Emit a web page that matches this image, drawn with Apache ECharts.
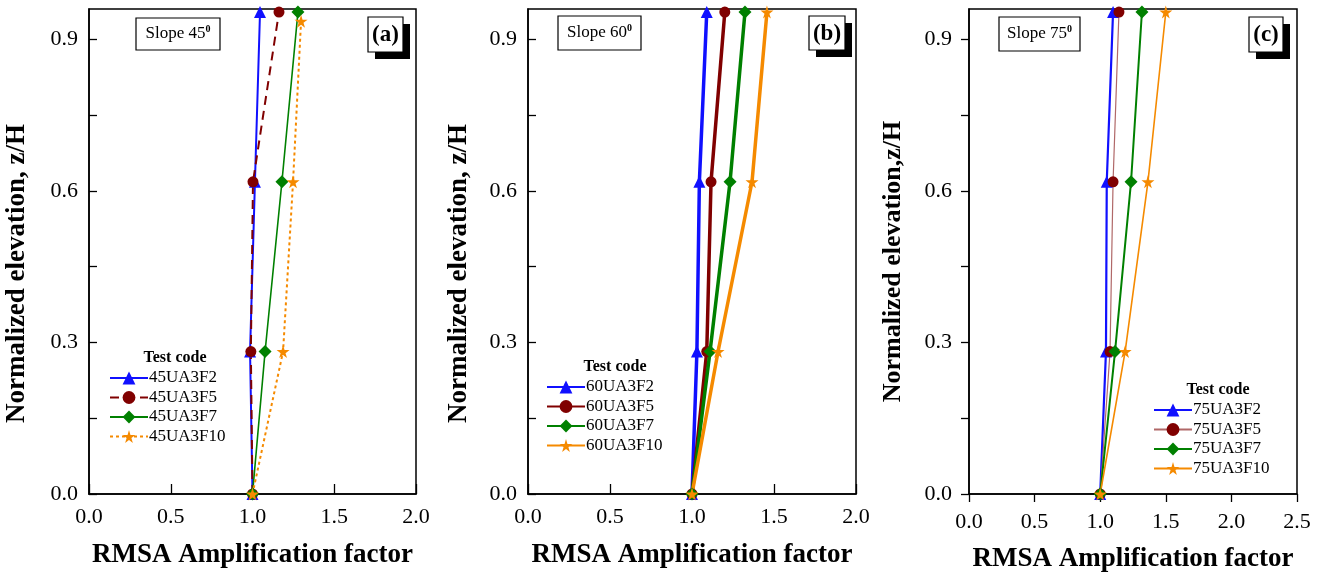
<!DOCTYPE html>
<html><head><meta charset="utf-8">
<script src="https://cdn.jsdelivr.net/npm/echarts@6/dist/echarts.min.js"></script>
<style>html,body{margin:0;padding:0;background:#fff}#c{width:1324px;height:573px}</style>
</head><body><div id="c"></div>
<script>
// ---- data ----
const elev = [0, 0.282, 0.618, 0.954];
const elevA10 = [0, 0.282, 0.618, 0.936];
const xTicksAB = [0, 2.0];
const xTicksC = [0, 2.5];
const namesA = ['45UA3F2', '45UA3F5', '45UA3F7', '45UA3F10'];
const namesB = ['60UA3F2', '60UA3F5', '60UA3F7', '60UA3F10'];
const namesC = ['75UA3F2', '75UA3F5', '75UA3F7', '75UA3F10'];
const a_F2  = [1.0, 0.985, 1.015, 1.046];
const a_F5  = [1.0, 0.99, 1.003, 1.162];
const a_F7  = [1.0, 1.077, 1.18, 1.278];
const a_F10 = [1.0, 1.187, 1.248, 1.297];
const b_F2  = [1.0, 1.03, 1.045, 1.09];
const b_F5  = [1.0, 1.09, 1.116, 1.20];
const b_F7  = [1.0, 1.11, 1.232, 1.323];
const b_F10 = [1.0, 1.159, 1.366, 1.457];
const c_F2  = [1.0, 1.044, 1.05, 1.098];
const c_F5  = [1.0, 1.075, 1.098, 1.143];
const c_F7  = [1.0, 1.113, 1.235, 1.318];
const c_F10 = [1.0, 1.19, 1.364, 1.50];

const FONT = 'Liberation Serif';
const BLUE = '#1010ff', RED = '#800000', GREEN = '#008000', ORANGE = '#f58a00';
const STAR = 'path://M50,0 L61,35 L98,35 L68,57 L79,91 L50,70 L21,91 L32,57 L2,35 L39,35 Z';

function pairs(xs, ys){ return xs.map((x,i)=>[x, ys[i]]); }

const grids = [
  {left: 89, top: 9, width: 327, height: 485},
  {left: 528, top: 9, width: 328, height: 485},
  {left: 969, top: 9, width: 328, height: 485}
];

function xAxis(idx, max, inside, margin, gap){
  return {
    type: 'value', gridIndex: idx, min: 0, max: max, interval: 0.5,
    name: 'RMSA Amplification factor', nameLocation: 'middle', nameGap: gap,
    nameTextStyle: {fontFamily: FONT, fontWeight: 'bold', fontSize: 27, color: '#000'},
    axisLine: {show: true, onZero: false, lineStyle: {color: '#000', width: 1.5}},
    axisTick: {show: true, inside: inside, length: inside ? 10 : 8, lineStyle: {color: '#000', width: 1.3}},
    axisLabel: {fontFamily: FONT, fontSize: 22, color: '#000', margin: margin,
      formatter: v => v.toFixed(1)},
    splitLine: {show: false}
  };
}
function yAxis(idx, name, inside, margin, gap, fs, shift){
  return {
    type: 'value', gridIndex: idx, min: 0, max: 0.96, interval: 0.15,
    name: name, nameLocation: 'middle', nameGap: gap, nameRotate: 90,
    nameTextStyle: {fontFamily: FONT, fontWeight: 'bold', fontSize: fs, color: '#000', padding: [0, shift, 0, 0]},
    axisLine: {show: true, onZero: false, lineStyle: {color: '#000', width: 1.5}},
    axisTick: {show: true, inside: inside, length: 8, lineStyle: {color: '#000', width: 1.3}},
    axisLabel: {fontFamily: FONT, fontSize: 22, color: '#000', margin: margin, showMaxLabel: false,
      formatter: v => { const k = v / 0.3; return Math.abs(k - Math.round(k)) < 1e-6 ? v.toFixed(1) : ''; }},
    splitLine: {show: false}
  };
}

function ser(name, idx, xs, ys, color, lineColor, width, type, symbol, size){
  return {
    name: name, type: 'line', xAxisIndex: idx, yAxisIndex: idx,
    data: pairs(xs, ys), symbol: symbol, symbolSize: size, showSymbol: true,
    lineStyle: {color: lineColor, width: width, type: type},
    itemStyle: {color: color},
    clip: false, animation: false, z: 3
  };
}

const series = [
  ser(namesA[0], 0, a_F2, elev, BLUE, BLUE, 2, 'solid', 'triangle', 12),
  ser(namesA[1], 0, a_F5, elev, RED, RED, 2, [9, 6], 'circle', 11),
  ser(namesA[2], 0, a_F7, elev, GREEN, GREEN, 1.6, 'solid', 'diamond', 13),
  ser(namesA[3], 0, a_F10, elevA10, ORANGE, ORANGE, 2, [3, 3], STAR, 13),
  ser(namesB[0], 1, b_F2, elev, BLUE, BLUE, 3.5, 'solid', 'triangle', 12),
  ser(namesB[1], 1, b_F5, elev, RED, RED, 3.5, 'solid', 'circle', 11),
  ser(namesB[2], 1, b_F7, elev, GREEN, GREEN, 3.5, 'solid', 'diamond', 13),
  ser(namesB[3], 1, b_F10, elev, ORANGE, ORANGE, 3.5, 'solid', STAR, 13),
  ser(namesC[0], 2, c_F2, elev, BLUE, BLUE, 2.2, 'solid', 'triangle', 12),
  ser(namesC[1], 2, c_F5, elev, RED, '#b06868', 1.2, 'solid', 'circle', 11),
  ser(namesC[2], 2, c_F7, elev, GREEN, GREEN, 2, 'solid', 'diamond', 13),
  ser(namesC[3], 2, c_F10, elev, ORANGE, ORANGE, 1.6, 'solid', STAR, 13)
];

function legend(names, left, top){
  return {
    data: names, orient: 'vertical', left: left, top: top,
    itemWidth: 38, itemHeight: 16, itemGap: 1.5, padding: 0,
    textStyle: {fontFamily: FONT, fontSize: 17, color: '#000', lineHeight: 18, padding: [0, 0, 0, -4]},
    selectedMode: false
  };
}

function slopeBox(x, y, w, h, deg){
  return [
    {type: 'rect', shape: {x: x, y: y, width: w, height: h}, style: {fill: '#fff', stroke: '#000', lineWidth: 1.2}, z: 10},
    {type: 'text', x: x + w / 2, y: y + h / 2, z: 11,
      style: {text: '{m|Slope ' + deg + '}{s|0}', align: 'center', verticalAlign: 'middle',
        rich: {m: {fontFamily: FONT, fontSize: 17, color: '#000', lineHeight: 20},
               s: {fontFamily: FONT, fontSize: 10, fontWeight: 'bold', color: '#000', verticalAlign: 'top', lineHeight: 10}}}}
  ];
}
function letterBox(x, y, w, h, txt){
  return [
    {type: 'rect', shape: {x: x + 7, y: y + 7, width: w, height: h}, style: {fill: '#000'}, z: 10},
    {type: 'rect', shape: {x: x, y: y, width: w, height: h}, style: {fill: '#fff', stroke: '#000', lineWidth: 1.2}, z: 11},
    {type: 'text', x: x + w / 2, y: y + h / 2 + 1, z: 12,
      style: {text: txt, align: 'center', verticalAlign: 'middle', fontFamily: FONT, fontWeight: 'bold', fontSize: 23, fill: '#000'}}
  ];
}
function legTitle(x, y){
  return {type: 'text', x: x, y: y, z: 11,
    style: {text: 'Test code', align: 'center', verticalAlign: 'middle', fontFamily: FONT, fontWeight: 'bold', fontSize: 16, fill: '#000'}};
}

const chart = echarts.init(document.getElementById('c'), null, {renderer: 'canvas'});
chart.setOption({
  animation: false,
  backgroundColor: '#fff',
  grid: grids.map(g => Object.assign({show: true, borderColor: '#000', borderWidth: 1.5, backgroundColor: 'transparent',
    containLabel: false, outerBoundsMode: 'none'}, g)),
  xAxis: [xAxis(0, xTicksAB[1], true, 12, 48), xAxis(1, xTicksAB[1], true, 12, 48), xAxis(2, xTicksC[1], false, 17, 52)],
  yAxis: [yAxis(0, 'Normalized elevation, z/H', true, 11, 58, 27, 44),
          yAxis(1, 'Normalized elevation, z/H', true, 11, 55, 27, 44),
          yAxis(2, 'Normalized elevation,z/H', false, 17, 63, 26, 20)],
  legend: [legend(namesA, 109, 369), legend(namesB, 546, 378), legend(namesC, 1153, 401)],
  series: series,
  graphic: [].concat(
    slopeBox(136, 18, 84, 32, 45), slopeBox(558, 16, 83, 34, 60), slopeBox(999, 17, 81, 34, 75),
    letterBox(368, 17, 35, 35, '(a)'), letterBox(809, 16, 36, 34, '(b)'), letterBox(1249, 17, 34, 35, '(c)'),
    [legTitle(175, 358), legTitle(615, 367), legTitle(1218, 390)]
  )
});
</script></body></html>
